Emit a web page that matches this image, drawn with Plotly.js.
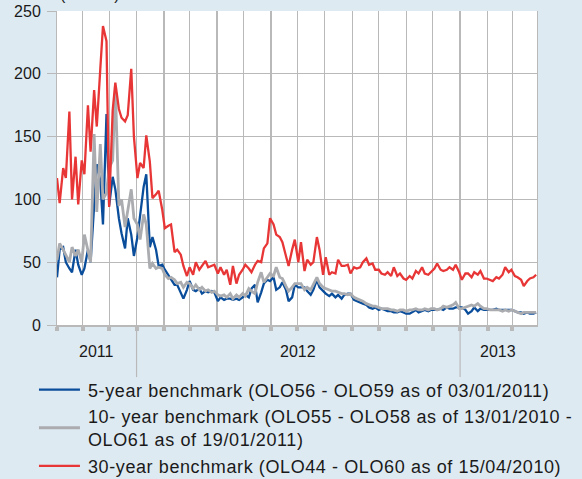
<!DOCTYPE html>
<html><head><meta charset="utf-8">
<script src="https://cdn.plot.ly/plotly-3.0.1.min.js"></script>
<style>html,body{margin:0;padding:0;background:#deeaf2;} #chart{width:582px;height:479px;} .legendtext{letter-spacing:0.6px;}</style>
</head><body><div id="chart"></div>
<script>
const dates = [
'2011-10-03','2011-10-06','2011-10-10','2011-10-13','2011-10-17','2011-10-20','2011-10-24','2011-10-27','2011-10-31',
'2011-11-03','2011-11-07','2011-11-10','2011-11-14','2011-11-17','2011-11-21','2011-11-24','2011-11-28',
'2011-12-01','2011-12-05','2011-12-08','2011-12-12','2011-12-15','2011-12-19','2011-12-22','2011-12-26','2011-12-29',
'2012-01-02','2012-01-05','2012-01-09','2012-01-12','2012-01-16','2012-01-19','2012-01-23','2012-01-26','2012-01-30',
'2012-02-02','2012-02-06','2012-02-09','2012-02-13','2012-02-16','2012-02-20','2012-02-23','2012-02-27',
'2012-03-01','2012-03-05','2012-03-08','2012-03-12','2012-03-15','2012-03-19','2012-03-22','2012-03-26','2012-03-29',
'2012-04-02','2012-04-05','2012-04-09','2012-04-12','2012-04-16','2012-04-19','2012-04-23','2012-04-26','2012-04-30',
'2012-05-03','2012-05-07','2012-05-10','2012-05-14','2012-05-17','2012-05-21','2012-05-24','2012-05-28','2012-05-31',
'2012-06-04','2012-06-07','2012-06-11','2012-06-14','2012-06-18','2012-06-21','2012-06-25','2012-06-28',
'2012-07-02','2012-07-05','2012-07-09','2012-07-12','2012-07-16','2012-07-19','2012-07-23','2012-07-26','2012-07-30',
'2012-08-02','2012-08-06','2012-08-09','2012-08-13','2012-08-16','2012-08-20','2012-08-23','2012-08-27','2012-08-30',
'2012-09-03','2012-09-06','2012-09-10','2012-09-13','2012-09-17','2012-09-20','2012-09-24','2012-09-27',
'2012-10-01','2012-10-04','2012-10-08','2012-10-11','2012-10-15','2012-10-18','2012-10-22','2012-10-25','2012-10-29',
'2012-11-01','2012-11-05','2012-11-08','2012-11-12','2012-11-15','2012-11-19','2012-11-22','2012-11-26','2012-11-29',
'2012-12-03','2012-12-06','2012-12-10','2012-12-13','2012-12-17','2012-12-20','2012-12-24','2012-12-27','2012-12-31',
'2013-01-03','2013-01-07','2013-01-10','2013-01-14','2013-01-17','2013-01-21','2013-01-24','2013-01-28','2013-01-31',
'2013-02-04','2013-02-07','2013-02-11','2013-02-14','2013-02-18','2013-02-21','2013-02-25','2013-02-28',
'2013-03-04','2013-03-07','2013-03-11','2013-03-14','2013-03-18','2013-03-21','2013-03-25','2013-03-28'
];

const fiveYear = [
38,60, 62,50, 45,42, 60,48, 40,45, 60,50, 95,128, 115,80, 168,95, 118,108, 85,73, 61,85, 72,55,
70,89, 110,120, 62,70, 60,47, 48,44, 40,37, 32,32, 26,21, 28,35, 28,27, 29,25, 27,26, 27,26,
19,22, 20,21, 21,20, 21,20, 22,24, 22,29, 32,18, 26,33, 36,35, 38,28, 30,34, 28,19, 22,32,
30,30, 30,27, 24,28, 36,30, 27,25, 23,25, 22,24, 21,24, 25,25, 20,19, 18,17, 16,14, 13,14,
12,13, 12,11, 11,10, 10,11, 10,9, 9,10, 12,10, 11,12, 11,12, 12,12, 13,12, 14,13, 13,14,
14,14, 12,9, 11,14, 11,13, 12,12, 12,12, 13,12, 12,12, 12,12, 11,10, 10,9, 10,9, 9,10
];

const tenYear = [
52,65, 60,56, 50,62, 55,60, 50,72, 60,50, 152,90, 144,100, 105,125, 131,190, 95,100, 78,90, 108,85,
80,68, 88,80, 45,49, 45,46, 45,40, 37,38, 36,33, 34,30, 34,33, 29,32, 28,30, 27,28, 26,27,
24,23, 24,22, 25,21, 24,22, 25,23, 29,27, 25,34, 42,34, 38,41, 39,46, 38,37, 31,27, 30,33,
33,33, 28,30, 28,32, 38,33, 30,29, 28,27, 27,26, 25,25, 24,25, 22,21, 20,19, 17,16, 15,15,
14,13, 13,13, 12,12, 11,12, 12,11, 12,12, 13,12, 12,13, 12,13, 13,12, 13,15, 14,15, 16,18,
13,13, 14,15, 16,15, 17,15, 13,13, 12,12, 12,12, 11,12, 11,12, 11,10, 9,10, 10,10, 10,10
];

const thirtyYear = [
117,97, 125,117, 170,100, 134,96, 131,120, 175,138, 187,158, 204,238, 226,94, 171,193, 172,165, 162,167, 204,150,
117,129, 125,151, 130,101, 104,107, 92,77, 79,80, 58,60, 56,47, 39,46, 40,50, 44,47, 51,46, 47,48,
41,46, 40,44, 32,47, 33,40, 44,48, 45,42, 48,51, 50,61, 65,85, 80,72, 70,66, 55,47, 60,68,
50,66, 43,52, 48,50, 70,60, 40,54, 40,42, 41,52, 47,47, 48,41, 46,45, 46,50, 53,48, 49,44,
44,41, 40,42, 39,46, 39,41, 37,36, 39,37, 43,41, 46,41, 40,42, 45,49, 44,43, 44,46, 44,48,
42,36, 41,41, 38,42, 40,43, 37,37, 36,35, 38,37, 40,46, 42,44, 39,38, 36,31, 35,37, 38,40
];

const seriesNames = [
  '5-year benchmark (OLO56 - OLO59 as of 03/01/2011)',
  '10- year benchmark (OLO55 - OLO58 as of 13/01/2010 -<br>OLO61 as of 19/01/2011)',
  '30-year benchmark (OLO44 - OLO60 as of 15/04/2010)'
];
const monthTicks = ['2011-10-03','2011-11-01','2011-12-01','2012-01-01','2012-02-01','2012-03-01','2012-04-01','2012-05-01','2012-06-01','2012-07-01','2012-08-01','2012-09-01','2012-10-01','2012-11-01','2012-12-01','2013-01-01','2013-02-01','2013-03-01'];
const yearLabels = ['2011','2012','2013'];
const yearBounds = ['2011-10-03','2012-01-01','2013-01-01','2013-03-29'];
const yTicks = [0,50,100,150,200,250];
const unitLabel = '(in BPS)';

const FONT = 'Liberation Sans, Arial, sans-serif';
const GRID = '#b9b9b9';

function mid(a,b){const t=(Date.parse(a)+Date.parse(b))/2;return new Date(t).toISOString().slice(0,10);}

const traces = [
  {x:dates, y:fiveYear, name:seriesNames[0], type:'scatter', mode:'lines', line:{color:'#0a4d9b', width:2.3}},
  {x:dates, y:tenYear, name:seriesNames[1], type:'scatter', mode:'lines', line:{color:'#abacb0', width:2.8}},
  {x:dates, y:thirtyYear, name:seriesNames[2], type:'scatter', mode:'lines', line:{color:'#e83636', width:2.3}}
];

const annotations = yearLabels.map((t,i)=>({
  text:t, x:mid(yearBounds[i],yearBounds[i+1]), xref:'x', y:-0.083, yref:'paper',
  showarrow:false, xanchor:'center', yanchor:'middle', font:{size:16,color:'#1a1a1a',family:FONT}
}));
annotations.push({text:unitLabel, xref:'paper', x:0.002, xanchor:'left', yref:'paper', y:1.019, yanchor:'bottom',
  showarrow:false, font:{size:16,color:'#1a1a1a',family:FONT}});

const shapes = [yearBounds[1], yearBounds[2]].map(d=>({
  type:'line', xref:'x', x0:d, x1:d, yref:'paper', y0:0, y1:-0.166, line:{color:GRID, width:1.2}
}));

const layout = {
  width:582, height:479,
  margin:{l:57, r:45, t:11, b:154, autoexpand:false},
  paper_bgcolor:'#deeaf2', plot_bgcolor:'#ffffff',
  font:{family:FONT, color:'#1a1a1a'},
  showlegend:true,
  legend:{x:-0.048, xanchor:'left', y:-0.148, yanchor:'top', orientation:'v',
    font:{size:18, family:FONT, color:'#1a1a1a'}, bgcolor:'rgba(0,0,0,0)', itemwidth:44,
    tracegroupgap:0, traceorder:'normal'},
  xaxis:{type:'date', range:[yearBounds[0], yearBounds[3]], tickmode:'array', tickvals:monthTicks,
    showticklabels:false, ticks:'outside', ticklen:4, tickwidth:4, tickcolor:GRID,
    showgrid:true, gridcolor:GRID, gridwidth:1.2, showline:true, linecolor:GRID, linewidth:2,
    mirror:false, zeroline:false, fixedrange:true},
  yaxis:{range:[0,250], tickmode:'array', tickvals:yTicks, ticks:'outside', ticklen:9, tickcolor:GRID, tickwidth:1,
    showgrid:true, gridcolor:GRID, gridwidth:1, showline:true, linecolor:GRID, linewidth:1, mirror:true,
    zeroline:false, tickfont:{size:16, family:FONT, color:'#1a1a1a'}, ticklabelstandoff:3, fixedrange:true},
  annotations:annotations,
  shapes:shapes
};

Plotly.newPlot('chart', traces, layout, {displayModeBar:false, staticPlot:true}).then(function(){
  document.querySelectorAll('.legend .js-line').forEach(function(p){p.setAttribute('d','M5,0h41');});
});
</script>
</body></html>
